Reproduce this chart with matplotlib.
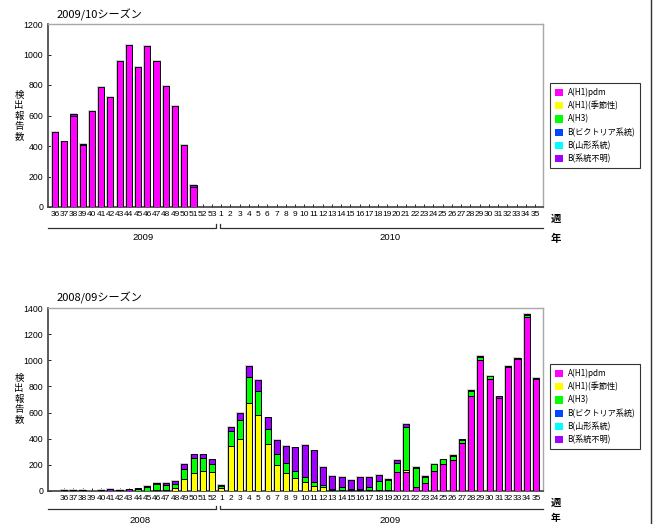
import numpy as np
import matplotlib
matplotlib.use('Agg')
import matplotlib.pyplot as plt
import matplotlib.transforms as mtransforms
from matplotlib import font_manager
from matplotlib.patches import Patch
from matplotlib.lines import Line2D

plt.rcParams['font.family'] = ['Noto Sans CJK JP', 'DejaVu Sans']


def pick_font(names):
    for n in names:
        try:
            font_manager.findfont(font_manager.FontProperties(family=n), fallback_to_default=False)
            return n
        except Exception:
            pass
    return 'Noto Sans CJK JP'


narrow = pick_font(['Liberation Sans Narrow', 'Liberation Sans'])

# 凡例
labels = ['A(H1)pdm', 'A(H1)(季節性)', 'A(H3)', 'B(ビクトリア系統)', 'B(山形系統)', 'B(系統不明)']
colors = ['#FF00FF', '#FFFF00', '#00FF00', '#0048FF', '#00FFFF', '#A000FF']
ylabel_chars = ['検', '出', '報', '告', '数']

# 2009/10シーズン (36週〜53週, 1週〜35週)
weeks_0910 = [36, 37, 38, 39, 40, 41, 42, 43, 44, 45, 46, 47, 48, 49, 50, 51, 52, 53,
              1, 2, 3, 4, 5, 6, 7, 8, 9, 10, 11, 12, 13, 14, 15, 16, 17, 18, 19, 20,
              21, 22, 23, 24, 25, 26, 27, 28, 29, 30, 31, 32, 33, 34, 35]
pdm_0910 = [495, 430, 600, 405, 632, 790, 720, 960, 1062, 917, 1056, 960, 792, 665, 405, 134, 0, 0,
            0, 0, 0, 0, 0, 0, 0, 0, 0, 0, 0, 0, 0, 0, 0, 0, 0, 0, 0,
            0, 0, 0, 0, 0, 0, 0, 0, 0, 0, 0, 0, 0, 0, 0, 0]
sea_0910 = [0] * 53
h3_0910 = [0] * 53
vic_0910 = [0] * 53
yam_0910 = [0] * 53
unk_0910 = [0, 0, 13, 8, 0, 0, 0, 0, 0, 0, 0, 0, 0, 0, 0, 13, 0, 0,
            0, 0, 0, 0, 0, 0, 0, 0, 0, 0, 0, 0, 0, 0, 0, 0, 0, 0, 0,
            0, 0, 0, 0, 0, 0, 0, 0, 0, 0, 0, 0, 0, 0, 0, 0]

# 2008/09シーズン (36週〜52週, 1週〜35週)
weeks_0809 = [36, 37, 38, 39, 40, 41, 42, 43, 44, 45, 46, 47, 48, 49, 50, 51, 52,
              1, 2, 3, 4, 5, 6, 7, 8, 9, 10, 11, 12, 13, 14, 15, 16, 17, 18, 19, 20,
              21, 22, 23, 24, 25, 26, 27, 28, 29, 30, 31, 32, 33, 34, 35]
pdm_0809 = [0, 0, 0, 0, 0, 0, 0, 0, 0, 0, 0, 0, 0, 0, 0, 0, 0,
            0, 0, 0, 0, 0, 0, 0, 0, 0, 0, 0, 0, 0, 0, 0, 0, 0, 0, 0, 146,
            146, 31, 56, 154, 205, 236, 363, 727, 1001, 860, 715, 950, 1010, 1334, 855]
sea_0809 = [0, 0, 0, 0, 0, 0, 0, 0, 0, 0, 5, 8, 18, 87, 138, 153, 146,
            22, 343, 397, 670, 579, 356, 195, 134, 95, 69, 36, 26, 5, 5, 3, 3, 3, 5, 3, 0,
            15, 0, 0, 0, 0, 0, 0, 0, 0, 0, 0, 0, 0, 0, 0]
h3_0809 = [0, 0, 0, 0, 0, 0, 0, 0, 15, 30, 50, 37, 31, 77, 115, 100, 59,
           12, 115, 146, 203, 184, 118, 84, 76, 59, 34, 33, 18, 5, 20, 8, 12, 25, 69, 76, 64,
           326, 141, 47, 51, 36, 28, 23, 36, 23, 20, 0, 0, 0, 13, 0]
vic_0809 = [0] * 52
yam_0809 = [0] * 52
unk_0809 = [5, 5, 5, 0, 5, 15, 5, 10, 3, 6, 2, 12, 25, 39, 26, 26, 36,
            10, 33, 56, 84, 87, 89, 110, 131, 179, 250, 241, 138, 103, 78, 74, 90, 77, 46, 11, 28,
            28, 10, 10, 0, 0, 10, 8, 10, 10, 3, 9, 7, 9, 10, 8]

W, H = 654, 524
fig = plt.figure(figsize=(W / 100, H / 100), dpi=100)


def draw(ax, weeks, series, xlim, ymax):
    x = np.arange(len(weeks))
    total = np.sum(np.array(series, dtype=float), axis=0)
    m = total > 0
    # 影
    ax.bar(x[m], total[m] + 6, width=0.86, color='#d0d0d0', zorder=2, linewidth=0)
    bottom = np.zeros(len(weeks))
    for vals, c in zip(series, colors):
        v = np.array(vals, dtype=float)
        k = v > 0
        ax.bar(x[k], v[k], width=0.66, bottom=bottom[k], color=c,
               edgecolor='black', linewidth=0.7, zorder=3)
        bottom += v
    ax.set_xlim(*xlim)
    ax.set_ylim(0, ymax)
    ax.set_yticks(np.arange(0, ymax + 1, 200))
    ax.set_xticks(x)
    ax.set_xticklabels([str(w) for w in weeks], fontsize=6, family=narrow)
    for t in ax.get_yticklabels():
        t.set_fontsize(6.3)
        t.set_family(narrow)
    ax.tick_params(axis='x', direction='in', length=2, pad=3.2, width=0.6)
    ax.tick_params(axis='y', direction='in', length=2, pad=3.5, width=0.6)
    for s in ['left', 'bottom']:
        ax.spines[s].set_color('#404040')
        ax.spines[s].set_linewidth(1.2)
    for s in ['top', 'right']:
        ax.spines[s].set_color('#a8a8a8')
        ax.spines[s].set_linewidth(1.0)


def bracket(ax, x0, x1, y, hook_left, hook_right):
    tr = mtransforms.blended_transform_factory(ax.transData, ax.transAxes)
    xs = [x0, x1]
    ys = [y, y]
    if hook_right:
        xs = xs + [x1]
        ys = ys + [y + 0.018]
    if hook_left:
        xs = [x0] + xs
        ys = [y + 0.018] + ys
    ax.add_line(Line2D(xs, ys, transform=tr, color='#303030', lw=0.9, clip_on=False))


def year(ax, x, y, s):
    tr = mtransforms.blended_transform_factory(ax.transData, ax.transAxes)
    ax.text(x, y, s, transform=tr, ha='center', va='center', fontsize=6.8, family=narrow)


# 上段: 2009/10シーズン
ax1 = fig.add_axes([48 / W, 1 - 207 / H, 495 / W, 183 / H])
draw(ax1, weeks_0910, [pdm_0910, sea_0910, h3_0910, vic_0910, yam_0910, unk_0910],
     (-0.76, 52.87), 1200)
bracket(ax1, -0.76, 17.45, -0.113, False, True)
bracket(ax1, 17.9, 52.87, -0.113, True, False)
year(ax1, 9.5, -0.169, '2009')
year(ax1, 36.3, -0.169, '2010')

# 下段: 2008/09シーズン
ax2 = fig.add_axes([48 / W, 1 - 490.7 / H, 495 / W, 182.4 / H])
draw(ax2, weeks_0809, [pdm_0809, sea_0809, h3_0809, vic_0809, yam_0809, unk_0809],
     (-1.73, 51.76), 1400)
bracket(ax2, -1.73, 16.45, -0.102, False, True)
bracket(ax2, 16.9, 51.76, -0.102, True, False)
year(ax2, 8.2, -0.161, '2008')
year(ax2, 35.2, -0.161, '2009')

# タイトル
fig.text(57 / W, 1 - 15 / H, '2009/10シーズン', fontsize=8, va='center', ha='left')
fig.text(57 / W, 1 - 298 / H, '2008/09シーズン', fontsize=8, va='center', ha='left')

# 縦書きの軸ラベル (1文字ずつ)
for y0 in [95, 378]:
    for i, ch in enumerate(ylabel_chars):
        fig.text(19 / W, 1 - (y0 + i * 10.5) / H, ch, fontsize=6.8, ha='center', va='center',
                 rotation=0)

fig.text(556 / W, 1 - 219 / H, '週', fontsize=7.5, ha='center', va='center', fontweight='bold')
fig.text(556 / W, 1 - 238.7 / H, '年', fontsize=7.5, ha='center', va='center', fontweight='bold')
fig.text(556 / W, 1 - 503 / H, '週', fontsize=7.5, ha='center', va='center', fontweight='bold')
fig.text(556 / W, 1 - 517.5 / H, '年', fontsize=7, ha='center', va='center', fontweight='bold')

# 凡例
handles = [Patch(facecolor=c, edgecolor='none') for c in colors]
for top in [83.3, 364.3]:
    leg = fig.legend(handles, labels, loc='upper left', bbox_to_anchor=(550 / W, 1 - top / H),
                     bbox_transform=fig.transFigure, fontsize=5.9, frameon=True,
                     fancybox=False, borderaxespad=0, handlelength=1.0, handleheight=1.0,
                     handletextpad=0.6, labelspacing=0.5, borderpad=0.55)
    leg.get_frame().set_edgecolor('black')
    leg.get_frame().set_linewidth(0.8)

# 右端の枠線
fig.add_artist(Line2D([651 / W, 651 / W], [0, 1], color='#303030', lw=1.0))

fig.savefig('out.png', dpi=100)
